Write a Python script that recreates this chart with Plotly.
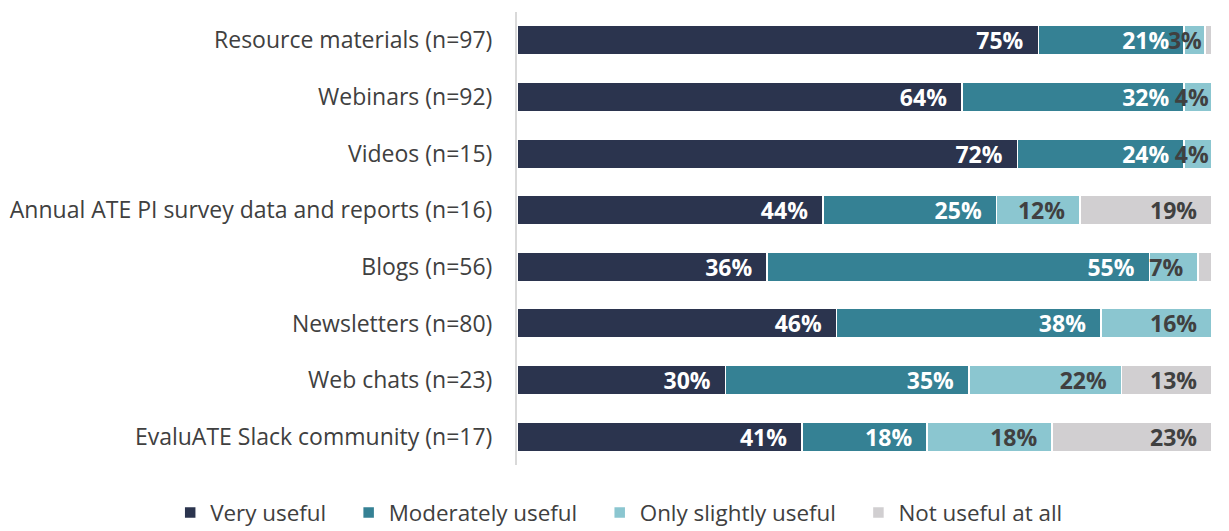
import plotly.graph_objects as go

CATEGORIES = [
    "Resource materials (n=97)",
    "Webinars (n=92)",
    "Videos (n=15)",
    "Annual ATE PI survey data and reports (n=16)",
    "Blogs (n=56)",
    "Newsletters (n=80)",
    "Web chats (n=23)",
    "EvaluATE Slack community (n=17)",
]

VERY_USEFUL = [75, 64, 72, 44, 36, 46, 30, 41]
MODERATELY_USEFUL = [21, 32, 24, 25, 55, 38, 35, 18]
SLIGHTLY_USEFUL = [3, 4, 4, 12, 7, 16, 22, 18]
NOT_USEFUL = [1, 0, 0, 19, 2, 0, 13, 23]

SERIES = [
    ("Very useful", VERY_USEFUL, "#2b344e", "white"),
    ("Moderately useful", MODERATELY_USEFUL, "#358194", "white"),
    ("Only slightly useful", SLIGHTLY_USEFUL, "#8bc6d0", "#404040"),
    ("Not useful at all", NOT_USEFUL, "#d1cfd1", "#404040"),
]

FONT = "Open Sans, Noto Sans, sans-serif"
PAD = "\u00a0\u00a0"
LEGEND_PAD = "\u00a0" * 3


def _labels(values: list[int]) -> list[str]:
    """
    Bold percentage labels, padded from the bar end; tiny slices stay unlabelled.
    """
    out = []
    for v in values:
        if v < 3:
            out.append("")
        elif v < 5:
            out.append(f"<b>{v}%</b>")
        else:
            out.append(f"<b>{v}%</b>{PAD}")
    return out


fig = go.Figure()
for name, values, colour, text_colour in SERIES:
    fig.add_trace(
        go.Bar(
            y=CATEGORIES,
            x=values,
            name=name + LEGEND_PAD,
            orientation="h",
            marker_color=colour,
            marker_line_color="white",
            marker_line_width=1.5,
            text=_labels(values),
            textposition="inside",
            insidetextanchor="end",
            constraintext="none",
            textfont=dict(family=FONT, size=23, color=text_colour),
            textangle=0,
            hoverinfo="skip",
        )
    )

fig.update_layout(
    barmode="stack",
    bargap=0.48,
    width=1229,
    height=531,
    margin=dict(l=517, r=17, t=12, b=66, autoexpand=False),
    paper_bgcolor="white",
    plot_bgcolor="white",
    font=dict(family=FONT, size=22, color="#404040"),
    xaxis=dict(
        range=[0, 100],
        visible=False,
        showgrid=False,
        zeroline=False,
    ),
    yaxis=dict(
        autorange="reversed",
        showline=True,
        linecolor="#d9d9d9",
        linewidth=2,
        showgrid=False,
        ticks="",
        ticklabelstandoff=18,
        tickfont=dict(family=FONT, size=23, color="#404040"),
    ),
    legend=dict(
        orientation="h",
        x=-0.499,
        xanchor="left",
        y=-0.106,
        yanchor="middle",
        font=dict(family=FONT, size=22.4, color="#404040"),
        traceorder="normal",
    ),
)

fig.write_html(
    "out.html",
    config={"displayModeBar": False},
    post_script="document.body.style.margin = '0';",
)
